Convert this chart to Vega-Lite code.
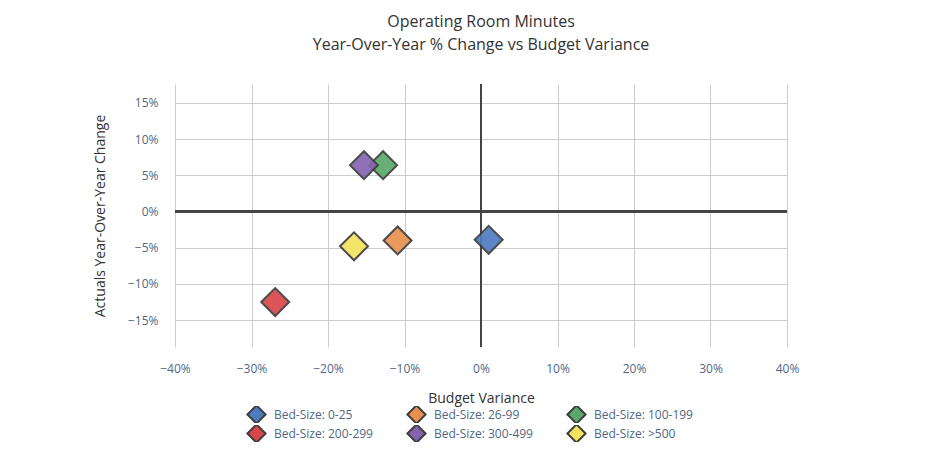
{
  "$schema": "https://vega.github.io/schema/vega-lite/v6.json",
  "autosize": {"type": "none"},
  "width": 612,
  "height": 263,
  "padding": {"left": 175, "top": 84, "right": 162, "bottom": 103},
  "background": "white",
  "config": {
    "font": "Open Sans",
    "view": {"stroke": null},
    "axis": {
      "domain": false,
      "ticks": false,
      "grid": true,
      "gridColor": "#cccccc",
      "gridWidth": 1,
      "labelColor": "#506784",
      "labelFont": "Open Sans",
      "labelFontSize": 12,
      "labelFlush": false,
      "titleFont": "Open Sans",
      "titleFontSize": 14,
      "titleFontWeight": "normal",
      "titleColor": "#333333"
    }
  },
  "title": {
    "text": ["Operating Room Minutes", "Year-Over-Year % Change vs Budget Variance"],
    "anchor": "middle",
    "font": "Open Sans",
    "fontSize": 16,
    "fontWeight": "normal",
    "color": "#333333",
    "lineHeight": 23,
    "offset": 30
  },
  "data": {
    "values": [
      {"group": "Bed-Size: 0-25", "variance": 0.010, "yoy": -0.039},
      {"group": "Bed-Size: 26-99", "variance": -0.109, "yoy": -0.040},
      {"group": "Bed-Size: 100-199", "variance": -0.128, "yoy": 0.064},
      {"group": "Bed-Size: 200-299", "variance": -0.269, "yoy": -0.125},
      {"group": "Bed-Size: 300-499", "variance": -0.153, "yoy": 0.064},
      {"group": "Bed-Size: >500", "variance": -0.166, "yoy": -0.048}
    ]
  },
  "layer": [
    {
      "mark": {"type": "rule", "color": "#444444", "strokeWidth": 2},
      "encoding": {"y": {"datum": 0, "type": "quantitative"}}
    },
    {
      "mark": {"type": "rule", "color": "#444444", "strokeWidth": 2},
      "encoding": {"x": {"datum": 0, "type": "quantitative"}}
    },
    {
      "mark": {"type": "point", "shape": "diamond", "filled": true, "size": 780, "stroke": "#3d3d3d", "strokeWidth": 2, "opacity": 0.92},
      "encoding": {
        "x": {
          "field": "variance", "type": "quantitative",
          "scale": {"domain": [-0.40, 0.40], "nice": false, "zero": false},
          "axis": {"values": [-0.4, -0.3, -0.2, -0.1, 0, 0.1, 0.2, 0.3, 0.4], "format": ".0%", "labelPadding": 16, "title": "Budget Variance", "titlePadding": 17}
        },
        "y": {
          "field": "yoy", "type": "quantitative",
          "scale": {"domain": [-0.187, 0.176], "nice": false, "zero": false},
          "axis": {"values": [-0.15, -0.1, -0.05, 0, 0.05, 0.1, 0.15], "format": ".0%", "labelPadding": 17, "title": "Actuals Year-Over-Year Change", "titlePadding": 20}
        },
        "color": {
          "field": "group", "type": "nominal",
          "sort": ["Bed-Size: 0-25", "Bed-Size: 26-99", "Bed-Size: 100-199", "Bed-Size: 200-299", "Bed-Size: 300-499", "Bed-Size: >500"],
          "scale": {
            "domain": ["Bed-Size: 0-25", "Bed-Size: 26-99", "Bed-Size: 100-199", "Bed-Size: 200-299", "Bed-Size: 300-499", "Bed-Size: >500"],
            "range": ["#4f7cc1", "#e8914f", "#5aa96a", "#d9474a", "#8464b0", "#f5e25e"]
          },
          "legend": {
            "title": null,
            "orient": "none",
            "legendX": 71,
            "legendY": 322,
            "columns": 3,
            "direction": "horizontal",
            "symbolType": "diamond",
            "symbolSize": 330,
            "symbolStrokeColor": "#3d3d3d",
            "symbolStrokeWidth": 2,
            "symbolOpacity": 1,
            "labelFont": "Open Sans",
            "labelFontSize": 12,
            "labelColor": "#506784",
            "labelOffset": 7,
            "columnPadding": 33,
            "rowPadding": 2,
            "clipHeight": 17,
            "gridAlign": "each"
          }
        }
      }
    }
  ]
}
